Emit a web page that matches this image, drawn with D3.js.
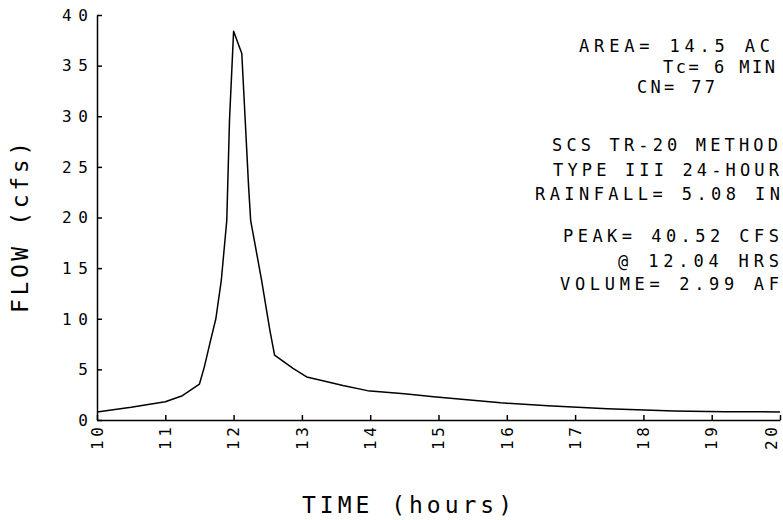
<!DOCTYPE html>
<html>
<head>
<meta charset="utf-8">
<script src="https://cdn.jsdelivr.net/npm/d3@7"></script>
<style>
  body { margin: 0; background: #fff; }
  text { font-family: "DejaVu Sans Mono", monospace; fill: #000; }
</style>
</head>
<body>
<svg id="chart" width="783" height="520"></svg>
<script>
// hydrograph (hours, cfs)
var hours = [10.0, 10.5, 11.0, 11.25, 11.5, 11.57, 11.65, 11.74, 11.82, 11.9, 11.94, 12.0,
             12.12, 12.17, 12.22, 12.25, 12.41, 12.53, 12.6, 12.87, 13.07, 13.26, 13.6,
             13.96, 14.5, 14.93, 15.5, 15.91, 16.6, 17.47, 18.45, 19.2, 20.0];
var flow  = [0.8, 1.25, 1.8, 2.4, 3.55, 5.2, 7.5, 10.0, 13.8, 19.7, 29.6, 38.4,
             36.2, 29.6, 23.0, 19.7, 13.8, 8.9, 6.4, 5.1, 4.25, 3.95, 3.4,
             2.9, 2.6, 2.3, 1.95, 1.7, 1.4, 1.1, 0.9, 0.82, 0.8];

var xTickValues = [10, 11, 12, 13, 14, 15, 16, 17, 18, 19, 20];
var yTickValues = [0, 5, 10, 15, 20, 25, 30, 35, 40];

var infoLines = ["AREA= 14.5 AC", "Tc= 6 MIN", "CN= 77",
                 "SCS TR-20 METHOD", "TYPE III 24-HOUR", "RAINFALL= 5.08 IN",
                 "PEAK= 40.52 CFS", "@ 12.04 HRS", "VOLUME= 2.99 AF"];

var xTitle = "TIME (hours)";
var yTitle = "FLOW (cfs)";

// layout of the info block: [x start, x end, baseline]
var infoPos = [[579, 770, 52], [663, 775, 73], [637, 715, 93],
               [552, 778, 151], [553, 779, 176], [535, 780, 200],
               [563, 779, 242], [618, 779, 267], [560, 779, 290]];

var svg = d3.select("#chart");

var x = d3.scaleLinear().domain([10, 20]).range([97, 780]);
var y = d3.scaleLinear().domain([0, 40]).range([420, 15]);

// axes, ticks pointing inward
var xAxis = svg.append("g")
  .attr("transform", "translate(0,420)")
  .call(d3.axisBottom(x).tickValues(xTickValues).tickSize(-5).tickSizeOuter(0).tickFormat(""));
var yAxis = svg.append("g")
  .attr("transform", "translate(97,0)")
  .call(d3.axisLeft(y).tickValues(yTickValues).tickSize(-5).tickSizeOuter(0).tickFormat(""));

svg.selectAll(".domain, .tick line")
  .attr("stroke", "#000")
  .attr("stroke-width", 1.5);

// y tick labels
svg.append("g").selectAll("text")
  .data(yTickValues)
  .enter()
  .append("text")
  .attr("x", 88)
  .attr("y", function(d) { return y(d); })
  .attr("dy", "0.36em")
  .attr("text-anchor", "end")
  .attr("font-size", 16)
  .attr("textLength", function(d) { return d >= 10 ? 26 : null; })
  .attr("lengthAdjust", "spacing")
  .text(function(d) { return d; });

// x tick labels, rotated (last one pulled in so it stays on the page)
svg.append("g").selectAll("text")
  .data(xTickValues)
  .enter()
  .append("text")
  .attr("transform", function(d) {
    return "translate(" + Math.min(x(d), 771) + ",450) rotate(-90)";
  })
  .attr("dy", "0.36em")
  .attr("text-anchor", "start")
  .attr("font-size", 16)
  .attr("textLength", 23)
  .attr("lengthAdjust", "spacing")
  .text(function(d) { return d; });

// the hydrograph
var pts = hours.map(function(h, i) { return [h, flow[i]]; });
var line = d3.line()
  .x(function(d) { return x(d[0]); })
  .y(function(d) { return y(d[1]); });

svg.append("path")
  .datum(pts)
  .attr("d", line)
  .attr("fill", "none")
  .attr("stroke", "#000")
  .attr("stroke-width", 1.5)
  .attr("stroke-linejoin", "round");

// info block
svg.append("g").selectAll("text")
  .data(infoLines)
  .enter()
  .append("text")
  .attr("x", function(d, i) { return infoPos[i][0]; })
  .attr("y", function(d, i) { return infoPos[i][2]; })
  .attr("font-size", 17)
  .attr("textLength", function(d, i) { return infoPos[i][1] - infoPos[i][0]; })
  .attr("lengthAdjust", "spacing")
  .text(function(d) { return d; });

// axis titles
svg.append("text")
  .attr("x", 302)
  .attr("y", 513)
  .attr("font-size", 23)
  .attr("textLength", 210)
  .attr("lengthAdjust", "spacing")
  .text(xTitle);

svg.append("text")
  .attr("transform", "translate(28,313) rotate(-90)")
  .attr("font-size", 23)
  .attr("textLength", 171)
  .attr("lengthAdjust", "spacing")
  .text(yTitle);
</script>
</body>
</html>
